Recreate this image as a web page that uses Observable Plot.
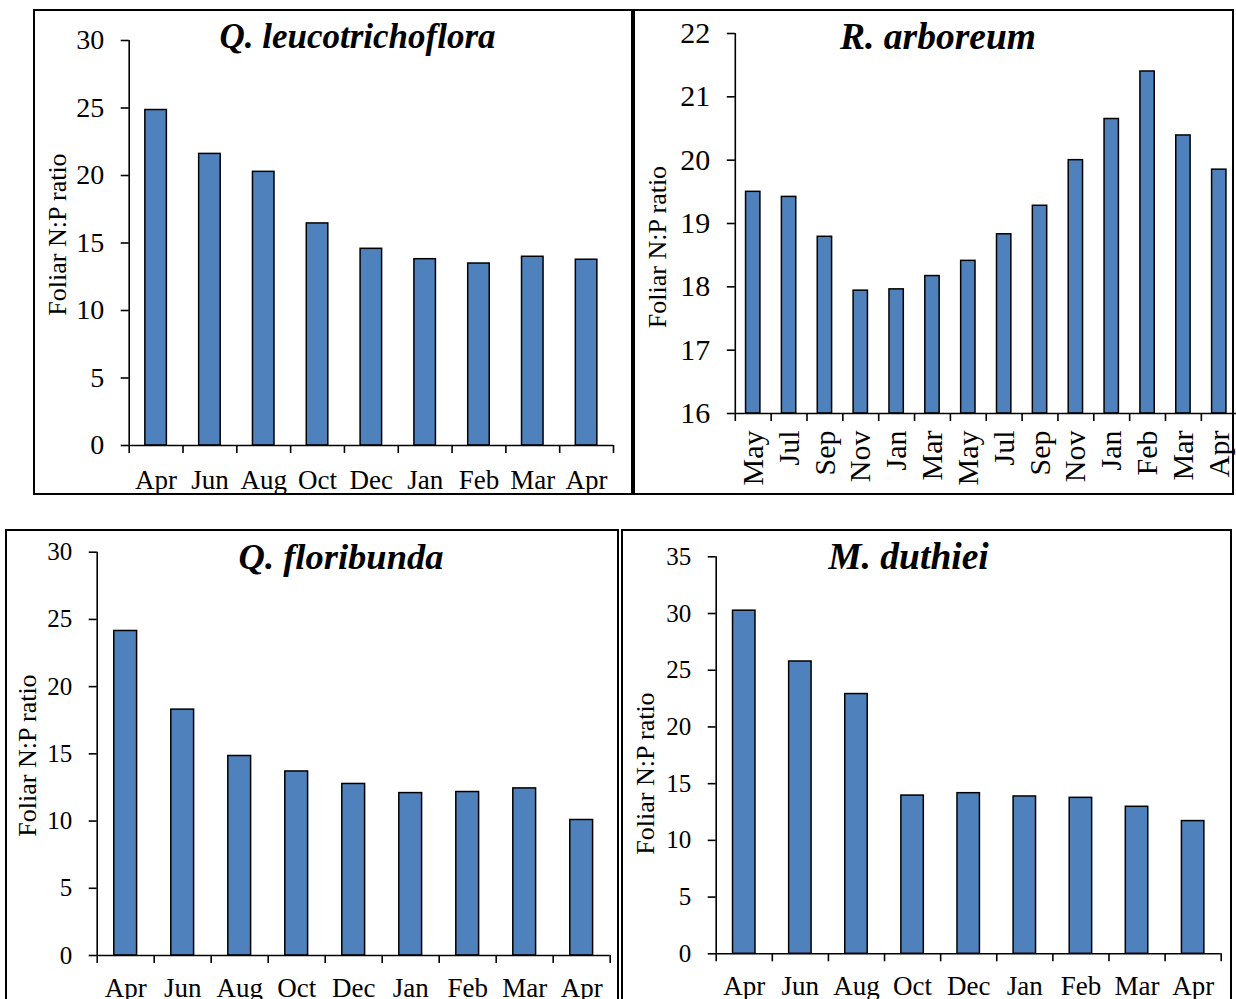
<!DOCTYPE html>
<html>
<head>
<meta charset="utf-8">
<script src="https://cdn.jsdelivr.net/npm/d3@7"></script>
<script src="https://cdn.jsdelivr.net/npm/@observablehq/plot@0.6"></script>
<style>
  html, body { margin: 0; padding: 0; background: #fff; overflow: hidden; }
  #page { position: relative; width: 1236px; height: 999px; overflow: hidden; background: #fff; }
  .slot { position: absolute; }
  .slot svg { display: block; max-width: none; overflow: visible; }
  .box { position: absolute; box-sizing: border-box; border: 2px solid #000; pointer-events: none; }
</style>
</head>
<body>
<div id="page"></div>
<script>
// Sampling months (x categories)
const monthsA = ["Apr", "Jun", "Aug", "Oct", "Dec", "Jan", "Feb", "Mar", "Apr"];
const monthsB = ["May", "Jul", "Sep", "Nov", "Jan", "Mar", "May", "Jul", "Sep", "Nov", "Jan", "Feb", "Mar", "Apr"];

// Foliar N:P ratio per species
const leucotrichoflora = [24.85, 21.6, 20.27, 16.45, 14.57, 13.8, 13.48, 13.98, 13.76];
const arboreum = [19.5, 19.42, 18.79, 17.94, 17.96, 18.17, 18.41, 18.83, 19.28, 20.0, 20.65, 21.4, 20.39, 19.85];
const floribunda = [24.14, 18.29, 14.84, 13.69, 12.76, 12.08, 12.16, 12.43, 10.08];
const duthiei = [30.25, 25.77, 22.9, 13.95, 14.16, 13.87, 13.75, 12.96, 11.7];

// Axis ticks
const ticks30 = [0, 5, 10, 15, 20, 25, 30];
const ticks22 = [16, 17, 18, 19, 20, 21, 22];
const ticks35 = [0, 5, 10, 15, 20, 25, 30, 35];

const yTitle = "Foliar N:P ratio";
const FONT = "Liberation Serif, Times New Roman, serif";
const BAR = "#4f81bd";

const panels = [
  { title: "Q. leucotrichoflora", months: monthsA, values: leucotrichoflora, domain: [0, 30], ticks: ticks30,
    left: 35, top: 11, width: 596, height: 482, ml: 93.7, mr: 18, mt: 29, mb: 48,
    yFont: 28, xFont: 27, xPad: 24, rotate: 0,
    titleX: 357, titleBase: 47, titleFont: 35, labX: 57, labY: 234, labFont: 26,
    box: [33, 9, 600, 486] },
  { title: "R. arboreum", months: monthsB, values: arboreum, domain: [16, 22], ticks: ticks22,
    left: 635, top: 11, width: 597, height: 482, ml: 99.8, mr: -4.7, mt: 22, mb: 80,
    yFont: 30, xFont: 30, xPad: 17, rotate: -90,
    titleX: 937.5, titleBase: 48, titleFont: 37.5, labX: 657, labY: 246.5, labFont: 26,
    box: [633, 9, 601, 486] },
  { title: "Q. floribunda", months: monthsA, values: floribunda, domain: [0, 30], ticks: ticks30,
    left: 7, top: 531, width: 610, height: 470, ml: 89.7, mr: 7.3, mt: 20.7, mb: 46,
    yFont: 25, xFont: 27, xPad: 22, rotate: 0,
    titleX: 340.5, titleBase: 568, titleFont: 36.5, labX: 27, labY: 755, labFont: 26,
    box: [5, 529, 614, 500] },
  { title: "M. duthiei", months: monthsA, values: duthiei, domain: [0, 35], ticks: ticks35,
    left: 623, top: 531, width: 607, height: 470, ml: 92.7, mr: 9.3, mt: 25.3, mb: 47.7,
    yFont: 25, xFont: 27, xPad: 22, rotate: 0,
    titleX: 908, titleBase: 568, titleFont: 37.5, labX: 645, labY: 773, labFont: 26,
    box: [621, 529, 611, 500] }
];

const page = document.getElementById("page");

for (const p of panels) {
  const n = p.values.length;
  const idx = d3.range(n);
  const step = (p.width - p.ml - p.mr) / n;
  const [lo, hi] = p.domain;
  // offsets of page-positioned text relative to the frame's top-left corner
  const ox = p.left + p.ml, oy = p.top + p.mt;

  const chart = Plot.plot({
    width: p.width,
    height: p.height,
    marginLeft: p.ml,
    marginRight: p.mr,
    marginTop: p.mt,
    marginBottom: p.mb,
    style: { fontFamily: FONT, background: "transparent", color: "#000", overflow: "visible" },
    x: { type: "band", domain: idx, paddingInner: 0.6, paddingOuter: 0.3, round: false, axis: null },
    y: { domain: [lo, hi], axis: null },
    marks: [
      Plot.barY(idx, { x: (i) => i, y1: lo, y2: (i) => p.values[i], fill: BAR, stroke: "#000", strokeWidth: 1.5 }),
      // axis lines
      Plot.ruleY([lo], { stroke: "#000", strokeWidth: 1.6 }),
      Plot.ruleX([0], { dx: -step / 2, stroke: "#000", strokeWidth: 1.6 }),
      // y ticks and labels
      Plot.axisY({ ticks: p.ticks, tickSize: 8, tickPadding: 17, tickFormat: (d) => String(d),
        fontSize: p.yFont, fontFamily: FONT, stroke: "#000", strokeWidth: 1.6, fill: "#000" }),
      // x ticks on category boundaries
      Plot.axisX({ ticks: idx, tickSize: 8, tickFormat: () => "", dx: -step / 2, stroke: "#000", strokeWidth: 1.6 }),
      Plot.axisX({ ticks: [n - 1], tickSize: 8, tickFormat: () => "", dx: step / 2, stroke: "#000", strokeWidth: 1.6 }),
      // x category labels
      Plot.axisX({ ticks: idx, tickSize: 0, tickPadding: p.xPad, tickRotate: p.rotate,
        tickFormat: (i) => p.months[i], fontSize: p.xFont, fontFamily: FONT, fill: "#000" }),
      // y axis title
      Plot.text([yTitle], { text: (d) => d, frameAnchor: "top-left", textAnchor: "middle", lineAnchor: "middle",
        rotate: -90, dx: p.labX - ox, dy: p.labY - oy, fontSize: p.labFont, fontFamily: FONT, fill: "#000" }),
      // species title
      Plot.text([p.title], { text: (d) => d, frameAnchor: "top-left", textAnchor: "middle", lineAnchor: "middle",
        dx: p.titleX - ox, dy: p.titleBase - 0.32 * p.titleFont - oy,
        fontSize: p.titleFont, fontFamily: FONT, fontWeight: "bold", fontStyle: "italic", fill: "#000" })
    ]
  });

  const slot = document.createElement("div");
  slot.className = "slot";
  slot.style.left = p.left + "px";
  slot.style.top = p.top + "px";
  slot.appendChild(chart);
  page.appendChild(slot);
}

for (const p of panels) {
  const [l, t, w, h] = p.box;
  const b = document.createElement("div");
  b.className = "box";
  Object.assign(b.style, { left: l + "px", top: t + "px", width: w + "px", height: h + "px" });
  page.appendChild(b);
}
</script>
</body>
</html>
